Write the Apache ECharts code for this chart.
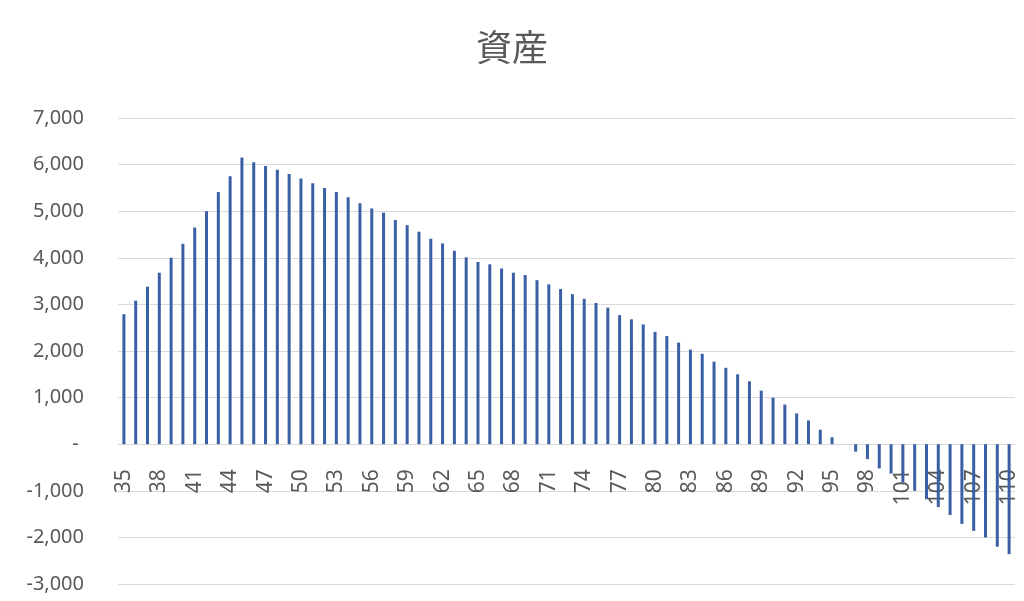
<!DOCTYPE html>
<html>
<head>
<meta charset="utf-8">
<title>資産</title>
<script src="https://cdn.jsdelivr.net/npm/echarts@6/dist/echarts.min.js"></script>
<style>
  html, body { margin: 0; padding: 0; background: #fff; }
  #chart { width: 1024px; height: 601px; }
</style>
</head>
<body>
<div id="chart"></div>
<script>
// 年齢 (35〜110)
const ages = [];
for (let a = 35; a <= 110; a++) ages.push(String(a));

// 資産額
const assets = [
  2790, 3080, 3380, 3680, 4000, 4300, 4650, 5000, 5410, 5750,
  6150, 6050, 5970, 5890, 5800, 5700, 5600, 5500, 5410, 5300,
  5170, 5060, 4970, 4810, 4700, 4560, 4410, 4310, 4150, 4010,
  3910, 3860, 3770, 3680, 3630, 3520, 3430, 3330, 3220, 3120,
  3030, 2930, 2770, 2680, 2570, 2410, 2320, 2180, 2030, 1940,
  1770, 1640, 1500, 1350, 1150, 1000, 850, 660, 510, 310,
  150, 0, -160, -320, -520, -630, -820, -1000, -1180, -1350,
  -1520, -1710, -1860, -2000, -2200, -2360
];

// y軸の目盛り
const yMin = -3000;
const yMax = 7000;
const yStep = 1000;

// グリッド
const gridTop = 118;
const gridBottom = 17;
const chartHeight = 601;

const chart = echarts.init(document.getElementById('chart'));

// Excelの会計表示っぽく: 0 は "-"
function formatYen(v) {
  if (v === 0) return '- ';
  return v.toLocaleString('en-US');
}

// x軸ラベルを 0 の位置に置くためのオフセット（v6 では onZero でラベルが動かない）
const plotHeight = chartHeight - gridTop - gridBottom;
const zeroFromBottom = plotHeight * (0 - yMin) / (yMax - yMin);
const xAxisOffset = -zeroFromBottom;

const option = {
  animation: false,
  title: {
    text: '資産',
    left: 'center',
    top: 24,
    textStyle: {
      fontFamily: 'Noto Sans CJK JP',
      fontSize: 36,
      fontWeight: 'normal',
      color: '#595959'
    }
  },
  grid: {
    left: 118,
    right: 9,
    top: gridTop,
    bottom: gridBottom,
    containLabel: false,
    outerBoundsMode: 'none'
  },
  xAxis: {
    type: 'category',
    data: ages,
    offset: xAxisOffset,
    z: 0,
    axisLine: { onZero: false, lineStyle: { color: '#d9d9d9', width: 1 } },
    axisTick: { show: false },
    axisLabel: {
      interval: 2,
      rotate: 90,
      fontFamily: 'Noto Sans',
      fontSize: 21,
      color: '#595959',
      margin: 25
    },
    splitLine: { show: false }
  },
  yAxis: {
    type: 'value',
    min: yMin,
    max: yMax,
    interval: yStep,
    axisLine: { show: false },
    axisTick: { show: false },
    axisLabel: {
      formatter: formatYen,
      fontFamily: 'Noto Sans',
      fontSize: 20,
      color: '#595959',
      margin: 34
    },
    splitLine: { lineStyle: { color: '#d9d9d9', width: 1 } }
  },
  series: [{
    type: 'bar',
    data: assets,
    barWidth: 3,
    z: 5,
    itemStyle: { color: '#3a5fa5' }
  }]
};

chart.setOption(option);
</script>
</body>
</html>
